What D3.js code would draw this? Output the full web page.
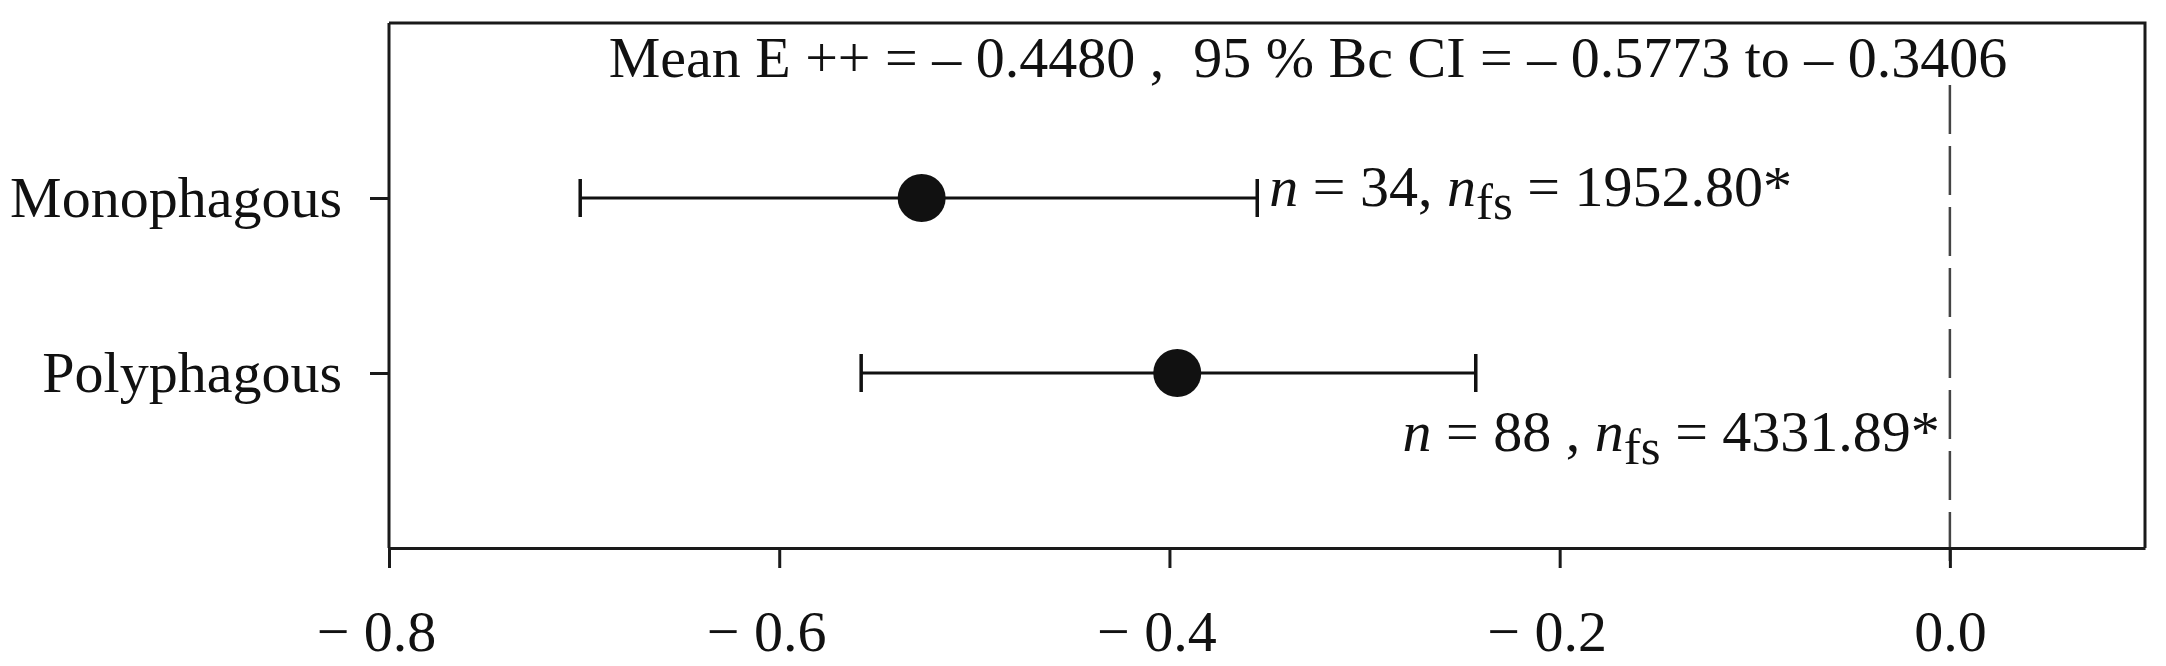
<!DOCTYPE html>
<html>
<head>
<meta charset="utf-8">
<script src="https://cdn.jsdelivr.net/npm/d3@7"></script>
<style>
	body { margin: 0; background: #fff; }
	svg { display: block; font-family: "Liberation Serif", "Times New Roman", serif; }
	.axis path, .axis line { stroke: #1a1a1a; stroke-width: 3; fill: none; }
	.axis text { fill: #111; font-size: 58px; font-family: "Liberation Serif", serif; }
</style>
</head>
<body>
<div id="chart"></div>
<script>
	// data
	let categories = ["Monophagous", "Polyphagous"];
	let means = [-0.527, -0.396];
	let lower = [-0.702, -0.558];
	let upper = [-0.355, -0.243];
	let nValues = ["34", "88"];
	let nfsValues = ["1952.80*", "4331.89*"];
	let xTicks = [-0.8, -0.6, -0.4, -0.2, 0.0];
	let xDomain = [-0.8, 0.1];
	let title = "Mean E ++ = \u2013 0.4480 ,  95 % Bc CI = \u2013 0.5773 to \u2013 0.3406";

	let width = 2166, height = 666;
	let margin = {top: 23, right: 21, bottom: 118, left: 389};

	let svg = d3.select("#chart").append("svg")
		.attr("width", width)
		.attr("height", height);

	let x = d3.scaleLinear().domain(xDomain).range([margin.left, width - margin.right]);
	let y = d3.scalePoint().domain(categories).range([margin.top, height - margin.bottom]).padding(1);

	// box: top and right edges (left/bottom come from the axes)
	svg.append("path")
		.attr("d", "M" + x.range()[0] + "," + margin.top + "H" + x.range()[1] + "V" + (height - margin.bottom))
		.attr("fill", "none")
		.attr("stroke", "#1a1a1a")
		.attr("stroke-width", 3);

	// zero reference line
	svg.append("line")
		.attr("x1", x(0)).attr("x2", x(0))
		.attr("y1", 85).attr("y2", height - margin.bottom + 20)
		.attr("stroke", "#444")
		.attr("stroke-width", 2.5)
		.attr("stroke-dasharray", "49,12");

	let xAxis = d3.axisBottom(x)
		.tickValues(xTicks)
		.tickSize(20)
		.tickSizeOuter(0)
		.tickPadding(42)
		.tickFormat(function(d) { return d < 0 ? "\u2212 " + Math.abs(d).toFixed(1) : d.toFixed(1); });
	let xg = svg.append("g")
		.attr("class", "axis")
		.attr("transform", "translate(0," + (height - margin.bottom) + ")")
		.call(xAxis);
	xg.selectAll(".tick text").attr("dx", function(d) { return d < 0 ? -13 : 0; });

	let yAxis = d3.axisLeft(y).tickSize(19).tickSizeOuter(0).tickPadding(28);
	let yg = svg.append("g")
		.attr("class", "axis")
		.attr("transform", "translate(" + margin.left + ",0)")
		.call(yAxis);
	yg.select(".domain").attr("d", "M0," + margin.top + "V" + (height - margin.bottom));

	// error bars
	let capHalf = 19;
	let bars = svg.append("g").selectAll("g")
		.data(categories)
		.enter().append("g");
	bars.append("line")
		.attr("x1", function(d, i) { return x(lower[i]); })
		.attr("x2", function(d, i) { return x(upper[i]); })
		.attr("y1", function(d) { return y(d); })
		.attr("y2", function(d) { return y(d); })
		.attr("stroke", "#111").attr("stroke-width", 3);
	[lower, upper].forEach(function(arr) {
		bars.append("line")
			.attr("x1", function(d, i) { return x(arr[i]); })
			.attr("x2", function(d, i) { return x(arr[i]); })
			.attr("y1", function(d) { return y(d) - capHalf; })
			.attr("y2", function(d) { return y(d) + capHalf; })
			.attr("stroke", "#111").attr("stroke-width", 3.5);
	});
	bars.append("circle")
		.attr("cx", function(d, i) { return x(means[i]); })
		.attr("cy", function(d) { return y(d); })
		.attr("r", 24)
		.attr("fill", "#111");

	// n / nfs labels
	function label(g, i) {
		let t = g.append("text").attr("font-size", 58).attr("fill", "#111");
		t.append("tspan").attr("font-style", "italic").text("n");
		t.append("tspan").text(" = " + nValues[i] + (i === 0 ? ", " : " , "));
		t.append("tspan").attr("font-style", "italic").text("n");
		t.append("tspan").attr("font-size", 51).attr("dy", 13).text("fs");
		t.append("tspan").attr("dy", -13).text(" = " + nfsValues[i]);
		return t;
	}
	label(svg, 0)
		.attr("x", x(upper[0]) + 12)
		.attr("y", y(categories[0]) + 8);
	label(svg, 1)
		.attr("text-anchor", "end")
		.attr("x", x(0) - 10)
		.attr("y", y(categories[1]) + 78);

	svg.append("text")
		.attr("x", 1308)
		.attr("y", 77)
		.attr("text-anchor", "middle")
		.attr("font-size", 58)
		.attr("fill", "#111")
		.style("white-space", "pre")
		.text(title);
</script>
</body>
</html>
